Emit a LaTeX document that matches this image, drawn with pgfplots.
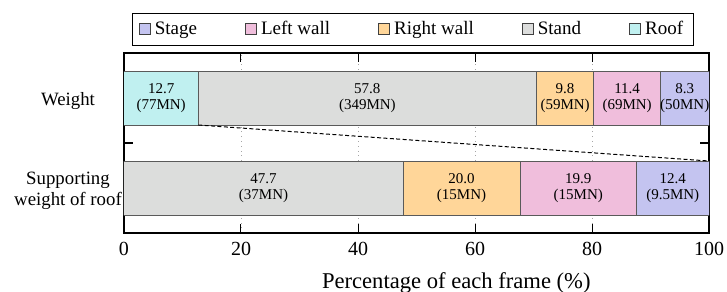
\documentclass[border=0pt]{standalone}
\usepackage{fontspec}
\setmainfont{Liberation Serif}
\usepackage{pgfplots}
\pgfplotsset{compat=1.18}
\definecolor{cStage}{RGB}{196,196,240}
\definecolor{cLeft}{RGB}{240,190,220}
\definecolor{cRight}{RGB}{255,214,153}
\definecolor{cStand}{RGB}{220,221,220}
\definecolor{cRoof}{RGB}{192,240,240}
\definecolor{cEdge}{RGB}{90,90,90}
\protected\def\lbl#1#2{#1\\(#2)}
\begin{document}
\begin{tikzpicture}
\pgfplotsset{common/.style={width=292.5pt, height=90pt, scale only axis,
  xmin=0, xmax=100, ymin=-0.5, ymax=1.5}}
\begin{axis}[common,
  xbar stacked, bar width=0.6,
  axis line style={line width=1pt},
  xtick={0,20,40,60,80,100},
  xmajorgrids, major grid style={dotted, gray!70},
  xtick style={black, line width=0.5pt},
  /pgf/number format/assume math mode=true,
  xticklabel style={font=\fontsize{10}{12}\selectfont, yshift=-1pt},
  ytick={0,1},
  yticklabels={Supporting\\weight of roof, Weight},
  yticklabel style={font=\fontsize{9.4}{10.5}\selectfont, align=center, anchor=center, xshift=-28pt, yshift=-1.5pt},
  ytick style={draw=none},
  extra y ticks={0.5}, extra y tick labels={},
  extra y tick style={ytick style={draw=black, line width=1pt}},
  xlabel={Percentage of each frame (\%)},
  xlabel style={font=\fontsize{11.3}{13}\selectfont, at={(rel axis cs:0.568,0)}, anchor=center, yshift=-24.8pt},
  legend image code/.code={\draw[#1, draw=black!75, line width=0.5pt] (0pt,-2.8pt) rectangle (5.5pt,2.8pt);},
  reverse legend,
  legend columns=5,
  legend style={at={(rel axis cs:0.494,1)}, anchor=south, yshift=3.5pt,
    draw=black, line width=0.5pt, font=\fontsize{9.5}{11}\selectfont,
    inner xsep=3pt, inner ysep=2pt,
    /tikz/every even column/.append style={column sep=22pt}},
]
\addplot[fill=cRoof, draw=cEdge, line width=0.5pt] coordinates {(12.7,1) (0,0)};
\addplot[fill=cStand, draw=cEdge, line width=0.5pt] coordinates {(57.8,1) (47.7,0)};
\addplot[fill=cRight, draw=cEdge, line width=0.5pt] coordinates {(9.8,1) (20.0,0)};
\addplot[fill=cLeft, draw=cEdge, line width=0.5pt] coordinates {(11.4,1) (19.9,0)};
\addplot[fill=cStage, draw=cEdge, line width=0.5pt] coordinates {(8.3,1) (12.4,0)};
\legend{Roof, Stand, Right wall, Left wall, Stage}
\coordinate (bl) at (rel axis cs:0,0);
\coordinate (tr) at (rel axis cs:1,1);
\end{axis}
\begin{axis}[common, hide axis, clip=false]
\addplot[black, dashed, dash pattern=on 2pt off 1.2pt, line width=0.5pt] coordinates {(12.7,0.7) (100,0.3)};
\addplot[only marks, mark=none, point meta=explicit symbolic, nodes near coords,
  nodes near coords style={anchor=center, align=center, font=\fontsize{7.5}{8.2}\selectfont, text=black}]
  coordinates {
  (6.35,1) [\lbl{12.7}{77MN}]
  (41.6,1) [\lbl{57.8}{349MN}]
  (75.4,1) [\lbl{9.8}{59MN}]
  (86.0,1) [\lbl{11.4}{69MN}]
  (95.85,1) [\lbl{8.3}{50MN}]
  (23.85,0) [\lbl{47.7}{37MN}]
  (57.7,0) [\lbl{20.0}{15MN}]
  (77.65,0) [\lbl{19.9}{15MN}]
  (93.8,0) [\lbl{12.4}{9.5MN}]
  };
\end{axis}
\pgfresetboundingbox
\path[use as bounding box] ([shift={(-62pt,-29pt)}]bl) rectangle ([shift={(9pt,26.5pt)}]tr);
\end{tikzpicture}
\end{document}
